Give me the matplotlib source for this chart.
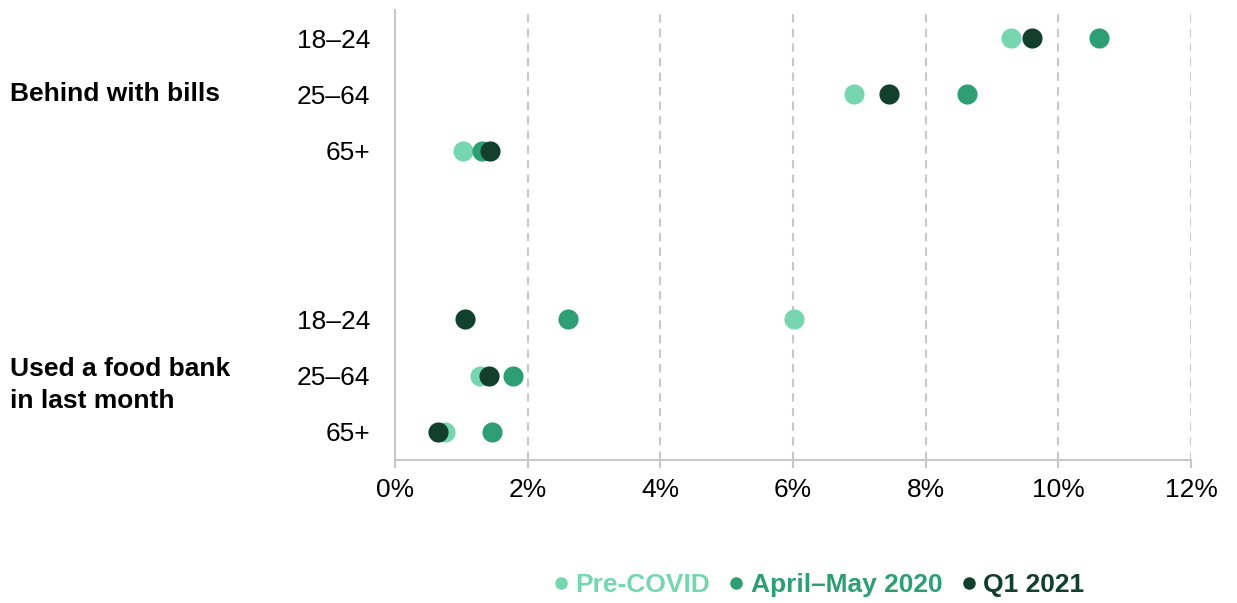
import numpy as np
import matplotlib.pyplot as plt
from matplotlib.lines import Line2D
from matplotlib.ticker import FuncFormatter

plt.rcParams['font.family'] = ['Liberation Sans', 'DejaVu Sans']

# rows top to bottom, blank gap between the two groups
age_labels = ['18–24', '25–64', '65+', '18–24', '25–64', '65+']
row_pos = [0, 1, 2, 5, 6, 7]
groups = ['Behind with bills', 'Used a food bank\nin last month']

pre_covid = [9.29, 6.92, 1.03, 6.02, 1.28, 0.75]
april_may = [10.61, 8.62, 1.31, 2.61, 1.78, 1.46]
q1_2021 = [9.60, 7.45, 1.43, 1.06, 1.42, 0.65]

series_names = ['Pre-COVID', 'April–May 2020', 'Q1 2021']
colors = ['#76d6b0', '#2e9e74', '#123f2e']

fig = plt.figure(figsize=(12.37, 6.03), dpi=100)
ax = fig.add_axes([395 / 1237, 143 / 603, 796 / 1237, 450 / 603])

for vals, c in zip([pre_covid, april_may, q1_2021], colors):
    ax.scatter(vals, row_pos, s=210, color=c, zorder=3, linewidths=0)

ax.set_xlim(0, 12)
ax.set_ylim(7.5, -0.5)
ax.set_xticks(np.arange(0, 13, 2))
ax.xaxis.set_major_formatter(FuncFormatter(lambda v, p: f'{v:.0f}%'))
ax.set_yticks(row_pos)
ax.set_yticklabels(age_labels)
ax.tick_params(axis='x', labelsize=19, length=6, width=1.5, color='#c8c8c8', pad=7)
ax.tick_params(axis='y', labelsize=19, length=0, pad=18)

for x in range(2, 13, 2):
    ax.axvline(x, color='#c8c8c8', lw=1.5, ls=(0, (4, 3)), zorder=1)

for side in ['top', 'right']:
    ax.spines[side].set_visible(False)
for side in ['left', 'bottom']:
    ax.spines[side].set_color('#c8c8c8')
    ax.spines[side].set_linewidth(1.5)

# group labels on the far left
fig.text(10 / 1237, 1 - 94 / 603, groups[0], fontsize=19, fontweight='bold',
         ha='left', va='center')
fig.text(10 / 1237, 1 - 385 / 603, groups[1], fontsize=19, fontweight='bold',
         ha='left', va='center', linespacing=1.4)

handles = [Line2D([], [], marker='o', ls='none', color=c, markersize=8)
           for c in colors]
leg = fig.legend(handles, series_names, loc='center', ncol=3,
                 bbox_to_anchor=(816 / 1237, 1 - 585 / 603), frameon=False,
                 handletextpad=0.05, columnspacing=0.5, handlelength=1.0,
                 prop={'size': 19, 'weight': 'bold'})
for t, c in zip(leg.get_texts(), colors):
    t.set_color(c)

fig.savefig('out.png', dpi=100)
